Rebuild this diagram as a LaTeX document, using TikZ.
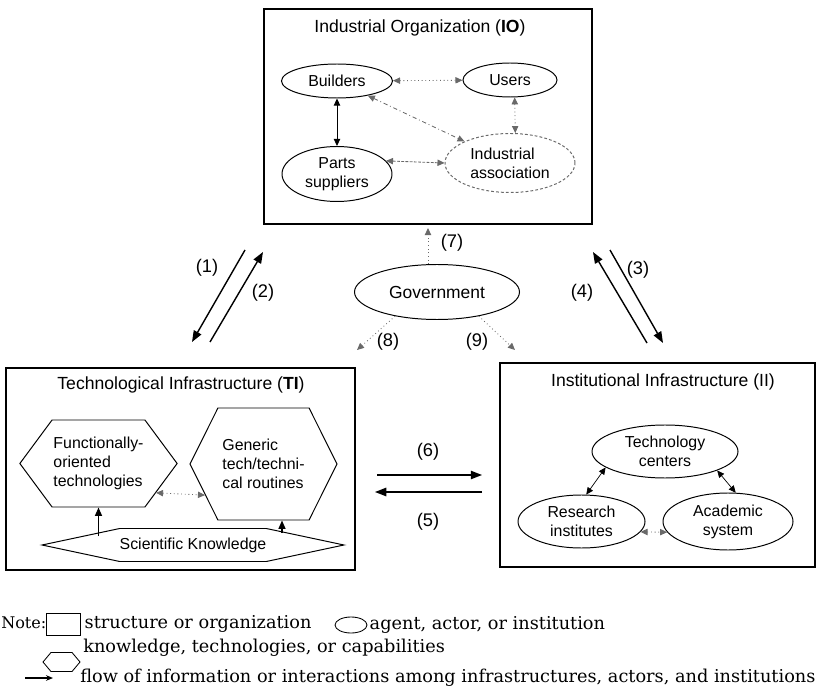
\documentclass[tikz,border=0pt]{standalone}
\usepackage{fontspec}
\setmainfont{Liberation Sans}
\newfontfamily\notefont{DejaVu Serif}
\usepackage{tikz}
\usetikzlibrary{shapes.geometric, shapes.symbols, arrows.meta, positioning}
\definecolor{dotgray}{RGB}{105, 105, 105}
\newlength{\ux}
\setlength{\ux}{0.025cm}

\begin{document}
\begin{tikzpicture}[
    x=\ux, y=-\ux,
    box/.style={rectangle, draw=black, line width=0.8pt, inner sep=0pt},
    title/.style={font=\fontsize{12.5}{15}\selectfont},
    actor/.style={ellipse, draw=black, line width=0.7pt, inner sep=0pt, align=center, font=\fontsize{11.3}{13.5}\selectfont},
    know/.style={signal, signal to=west and east, draw=black, line width=0.7pt, inner sep=1pt, align=left, font=\fontsize{11.3}{13.5}\selectfont},
    link/.style={line width=0.6pt, {Triangle[length=5pt,width=4.5pt]}-{Triangle[length=5pt,width=4.5pt]}},
    dotlink/.style={link, dotted, draw=dotgray},
    govarrow/.style={line width=0.6pt, dotted, draw=dotgray, -{Triangle[length=5pt,width=4.5pt]}},
    uparrow/.style={line width=0.9pt, -{Triangle[length=6pt,width=5pt]}},
    flow/.style={line width=1pt, -{Triangle[length=8pt,width=6pt]}},
    num/.style={font=\fontsize{13}{15}\selectfont, inner sep=0pt},
    note/.style={font=\notefont\fontsize{12.6}{15}\selectfont, anchor=west, inner sep=0pt}
]
    \useasboundingbox (0,0) rectangle (816,695);

    \node (io) [box, minimum width=328\ux, minimum height=215\ux] at (428,116.5) {};
    \node (iotitle) [title] at (420,28) {Industrial Organization (\textbf{IO})};
    \node (builders) [actor, minimum width=111\ux, minimum height=34\ux] at (337,81) {Builders};
    \node (users) [actor, minimum width=94\ux, minimum height=34\ux] at (510,80) {Users};
    \node (parts) [actor, minimum width=110\ux, minimum height=55\ux] at (337,174) {Parts\\suppliers};
    \node (assoc) [actor, draw=dotgray, dash pattern=on 2pt off 1.5pt, minimum width=130\ux, minimum height=59\ux, align=left] at (510,163) {Industrial\\association};

    \draw [link] (builders) -- (parts);
    \draw [dotlink] (builders) -- (users);
    \draw [link, dash dot, draw=dotgray] (builders) -- (assoc);
    \draw [dotlink] (users.-75) -- (assoc.80);
    \draw [link, dash pattern=on 2pt off 1pt, draw=dotgray] (parts.15) -- (assoc.west);

    \node (gov) [actor, font=\fontsize{12.4}{15}\selectfont, minimum width=165\ux, minimum height=55\ux] at (437,292) {Government};
    \coordinate (g7) at (428,228);
    \coordinate (g8) at (357,350);
    \coordinate (g9) at (515,350);
    \draw [govarrow] (g7 |- gov.north) -- (g7);
    \draw [govarrow] (gov.210) -- (g8);
    \draw [govarrow] (gov.330) -- (g9);
    \node (n7) [num] at (452,243) {(7)};
    \node (n8) [num] at (388,342) {(8)};
    \node (n9) [num] at (477,342) {(9)};

    \coordinate (a1) at (245,250);
    \coordinate (b1) at (192,342);
    \coordinate (a2) at (210,342);
    \coordinate (b2) at (263,252);
    \coordinate (a3) at (610,250);
    \coordinate (b3) at (663,343);
    \coordinate (a4) at (647,343);
    \coordinate (b4) at (593,252);
    \draw [flow] (a1) -- (b1);
    \draw [flow] (a2) -- (b2);
    \draw [flow] (a3) -- (b3);
    \draw [flow] (a4) -- (b4);
    \node (n1) [num] at (207,268) {(1)};
    \node (n2) [num] at (263,293) {(2)};
    \node (n3) [num] at (638,270) {(3)};
    \node (n4) [num] at (582,293) {(4)};

    \node (ti) [box, minimum width=349\ux, minimum height=202\ux] at (180.5,469) {};
    \node (tititle) [title] at (181,385) {Technological Infrastructure (\textbf{TI})};
    \node (func) [know, minimum width=147\ux, minimum height=87\ux, signal pointer angle=107] at (98.5,463.5) {Functionally-\\oriented\\technologies};
    \node (generic) [know, minimum width=147\ux, minimum height=112\ux, signal pointer angle=127] at (263.5,464) {Generic\\tech/techni-\\cal routines};
    \node (sci) [know, align=center, inner sep=0pt, minimum width=297\ux, minimum height=33\ux, signal pointer angle=24] at (193,545) {Scientific Knowledge};
    \draw [dotlink] (func.-27) -- (generic.208);
    \coordinate (k1) at (98.5,536);
    \coordinate (k2) at (282,533);
    \draw [uparrow] (k1) -- (func.south);
    \draw [uparrow] (k2) -- (k2 |- generic.south);

    \node (ii) [box, minimum width=315\ux, minimum height=204\ux] at (657.5,465) {};
    \node (iititle) [title] at (663,382) {Institutional Infrastructure (II)};
    \node (tech) [actor, minimum width=146\ux, minimum height=53\ux] at (665,451.5) {Technology\\centers};
    \node (research) [actor, minimum width=127\ux, minimum height=53\ux] at (581.5,521.5) {Research\\institutes};
    \node (academic) [actor, minimum width=130\ux, minimum height=57\ux] at (728,521.5) {Academic\\system};
    \draw [link, line width=0.5pt] (tech.195) -- (research.80);
    \draw [link, line width=0.5pt] (tech.-20) -- (academic.75);
    \draw [dotlink] (research.-10) -- (academic.190);

    \coordinate (c6) at (377,475);
    \coordinate (d6) at (482,475);
    \coordinate (c5) at (482,492);
    \coordinate (d5) at (375,492);
    \draw [flow] (c6) -- (d6);
    \draw [flow] (c5) -- (d5);
    \node (n6) [num] at (428,452) {(6)};
    \node (n5) [num] at (428,522) {(5)};

    \node (notelbl) [note, font=\notefont\fontsize{11.4}{14}\selectfont] at (1,623) {Note:};
    \node (keybox) [box, line width=0.6pt, minimum width=34\ux, minimum height=22\ux] at (63,624) {};
    \node (keyboxtxt) [note, right=4\ux of keybox] {structure or organization};
    \node (keyell) [ellipse, draw, line width=0.6pt, inner sep=0pt, minimum width=32\ux, minimum height=16\ux] at (351,625) {};
    \node (keyelltxt) [note, right=2\ux of keyell] {agent, actor, or institution};
    \node (keyhex) [signal, signal to=west and east, draw, line width=0.6pt, inner sep=0pt, minimum width=37\ux, minimum height=19\ux, signal pointer angle=100] at (61.5,662) {};
    \node (keyhextxt) [note] at (83,648) {knowledge, technologies, or capabilities};
    \coordinate (keya) at (25,678);
    \coordinate (keyb) at (53,678);
    \draw [line width=0.8pt, -{Stealth[length=5pt,width=4pt]}] (keya) -- (keyb);
    \node (keyflowtxt) [note] at (80,678) {flow of information or interactions among infrastructures, actors, and institutions};
\end{tikzpicture}
\end{document}
